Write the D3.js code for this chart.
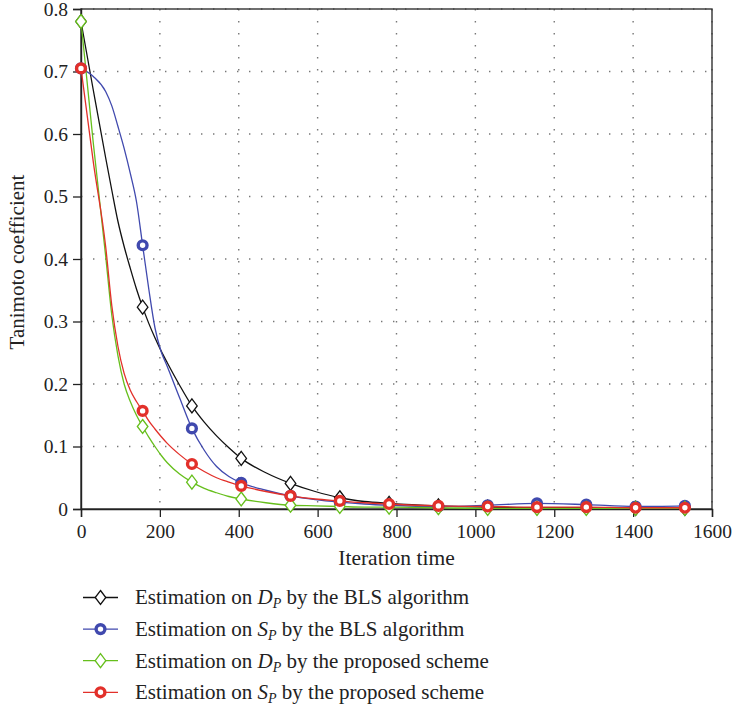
<!DOCTYPE html>
<html>
<head>
<meta charset="utf-8">
<script src="https://cdn.jsdelivr.net/npm/d3@7.9.0/dist/d3.min.js"></script>
<style>
  body { margin: 0; background: #fff; }
  svg { display: block; font-family: "Liberation Serif", "DejaVu Serif", serif; }
  .grid line { stroke: #777; stroke-width: 1.4; stroke-dasharray: 1.4 10.6; }
</style>
</head>
<body>
<div id="chart"></div>
<script>
// iteration samples of the curves; markers sit on a subset of them
const iterations = [0, 31.25, 62.5, 78.125, 93.75, 109.375, 125, 140.625, 156.25, 171.875, 187.5, 203.125, 218.75,
  250, 281.25, 312.5, 343.75, 375, 406.25, 468.75, 531.25, 593.75, 656.25, 718.75, 781.25,
  906.25, 1031.25, 1156.25, 1281.25, 1406.25, 1531.25];
const markerIterations = [0, 156.25, 281.25, 406.25, 531.25, 656.25, 781.25, 906.25, 1031.25, 1156.25, 1281.25, 1406.25, 1531.25];

const dpBls = [0.78, 0.67, 0.562, 0.51, 0.46, 0.42, 0.385, 0.352, 0.323, 0.297, 0.274, 0.253, 0.234,
  0.198, 0.165, 0.139, 0.117, 0.098, 0.081, 0.058, 0.041, 0.028, 0.018, 0.012, 0.009,
  0.005, 0.003, 0.002, 0.002, 0.001, 0.001];
const spBls = [0.705, 0.692, 0.668, 0.645, 0.612, 0.577, 0.537, 0.492, 0.422, 0.352, 0.29, 0.252, 0.228,
  0.178, 0.129, 0.094, 0.068, 0.052, 0.042, 0.03, 0.021, 0.015, 0.011, 0.008, 0.006,
  0.004, 0.006, 0.009, 0.007, 0.004, 0.005];
const dpProposed = [0.78, 0.585, 0.405, 0.31, 0.245, 0.2, 0.172, 0.15, 0.132, 0.115, 0.1, 0.086, 0.074,
  0.056, 0.043, 0.033, 0.026, 0.02, 0.016, 0.01, 0.006, 0.005, 0.004, 0.003, 0.003,
  0.002, 0.001, 0.001, 0.001, 0.001, 0.001];
const spProposed = [0.705, 0.555, 0.42, 0.325, 0.26, 0.217, 0.19, 0.172, 0.157, 0.141, 0.128, 0.116, 0.105,
  0.087, 0.072, 0.06, 0.05, 0.043, 0.037, 0.028, 0.021, 0.016, 0.013, 0.01, 0.008,
  0.005, 0.004, 0.003, 0.003, 0.002, 0.002];

const xTicks = [0, 200, 400, 600, 800, 1000, 1200, 1400, 1600];
const yTicks = [0, 0.1, 0.2, 0.3, 0.4, 0.5, 0.6, 0.7, 0.8];

const series = [
  { name: 'D', by: ' by the BLS algorithm', values: dpBls, color: '#111111', marker: 'diamond' },
  { name: 'S', by: ' by the BLS algorithm', values: spBls, color: '#4049ae', marker: 'circle' },
  { name: 'D', by: ' by the proposed scheme', values: dpProposed, color: '#66bf1c', marker: 'diamond' },
  { name: 'S', by: ' by the proposed scheme', values: spProposed, color: '#e2302a', marker: 'circle' },
];

const width = 733;
const height = 709;
const margin = { top: 9, right: 21, bottom: 200, left: 81 };

const svg = d3.select('#chart')
  .append('svg')
  .attr('width', width)
  .attr('height', height);

const xScale = d3.scaleLinear().domain([0, 1600]).range([margin.left, width - margin.right]);
const yScale = d3.scaleLinear().domain([0, 0.8]).range([height - margin.bottom, margin.top]);

// dotted grid
const grid = svg.append('g').attr('class', 'grid');
grid.selectAll('line.v')
  .data(xTicks.slice(1))
  .join('line')
  .attr('class', 'v')
  .attr('x1', (d) => xScale(d)).attr('x2', (d) => xScale(d))
  .attr('y1', yScale(0.8)).attr('y2', yScale(0));
grid.selectAll('line.h')
  .data(yTicks.slice(1))
  .join('line')
  .attr('class', 'h')
  .attr('x1', xScale(0)).attr('x2', xScale(1600))
  .attr('y1', (d) => yScale(d)).attr('y2', (d) => yScale(d));

// frame
svg.append('rect')
  .attr('x', xScale(0)).attr('y', yScale(0.8))
  .attr('width', xScale(1600) - xScale(0))
  .attr('height', yScale(0) - yScale(0.8))
  .attr('fill', 'none')
  .attr('stroke', '#333')
  .attr('stroke-width', 1.4);

// axes
const xAxis = svg.append('g')
  .attr('transform', `translate(0, ${yScale(0)})`)
  .call(d3.axisBottom(xScale).tickValues(xTicks).tickSize(8).tickPadding(6).tickFormat(d3.format('d')));
const yAxis = svg.append('g')
  .attr('transform', `translate(${xScale(0)}, 0)`)
  .call(d3.axisLeft(yScale).tickValues(yTicks).tickSize(8).tickPadding(5).tickFormat((d) => d === 0 ? '0' : d3.format('.1f')(d)));

[xAxis, yAxis].forEach((g) => {
  g.select('.domain').attr('stroke', '#222').attr('stroke-width', 1.4);
  g.selectAll('.tick line').attr('stroke', '#222').attr('stroke-width', 1.3);
  g.selectAll('.tick text')
    .attr('fill', '#222')
    .style('font-family', '"Liberation Serif", serif')
    .style('font-size', '19.5px');
});
xAxis.selectAll('.tick text').attr('dy', '0.75em');

svg.append('text')
  .attr('x', (xScale(0) + xScale(1600)) / 2)
  .attr('y', 565)
  .attr('text-anchor', 'middle')
  .attr('fill', '#222')
  .style('font-size', '21.5px')
  .text('Iteration time');

svg.append('text')
  .attr('transform', 'translate(23.5, 262) rotate(-90)')
  .attr('text-anchor', 'middle')
  .attr('fill', '#222')
  .style('font-size', '21px')
  .text('Tanimoto coefficient');

// curves + markers
const line = d3.line()
  .x((d) => xScale(d[0]))
  .y((d) => yScale(d[1]))
  .curve(d3.curveMonotoneX);

function drawMarker(g, type, color) {
  if (type === 'diamond') {
    g.append('path')
      .attr('d', 'M0,-7L5.3,0L0,7L-5.3,0Z')
      .attr('fill', '#fff')
      .attr('stroke', color)
      .attr('stroke-width', 1.3);
  } else {
    g.append('circle')
      .attr('r', 4.4)
      .attr('fill', '#fff')
      .attr('stroke', color)
      .attr('stroke-width', 3.4);
  }
}

const plot = svg.append('g');
series.forEach((s) => {
  const pts = iterations.map((it, i) => [it, s.values[i]]);
  plot.append('path')
    .datum(pts)
    .attr('d', line)
    .attr('fill', 'none')
    .attr('stroke', s.color)
    .attr('stroke-width', 1.3);
});
series.forEach((s) => {
  const marks = iterations
    .map((it, i) => [it, s.values[i]])
    .filter((p) => markerIterations.includes(p[0]));
  plot.append('g')
    .selectAll('g')
    .data(marks)
    .join('g')
    .attr('transform', (d) => `translate(${xScale(d[0])}, ${yScale(d[1])})`)
    .each(function () { drawMarker(d3.select(this), s.marker, s.color); });
});

// legend
const legend = svg.append('g');
series.forEach((s, i) => {
  const y = 597.5 + i * 31.6;
  const row = legend.append('g').attr('transform', `translate(0, ${y})`);
  row.append('line')
    .attr('x1', 83).attr('x2', 118)
    .attr('stroke', s.color).attr('stroke-width', 1.3);
  drawMarker(row.append('g').attr('transform', 'translate(100.5, 0)'), s.marker, s.color);
  const t = row.append('text')
    .attr('x', 135)
    .attr('dy', '0.33em')
    .attr('fill', '#222')
    .style('font-size', '21px');
  t.append('tspan').text('Estimation on ');
  t.append('tspan').style('font-style', 'italic').text(s.name);
  t.append('tspan').style('font-style', 'italic').style('font-size', '14px').attr('dy', '4').text('P');
  t.append('tspan').attr('dy', '-4').text(s.by);
});
</script>
</body>
</html>
